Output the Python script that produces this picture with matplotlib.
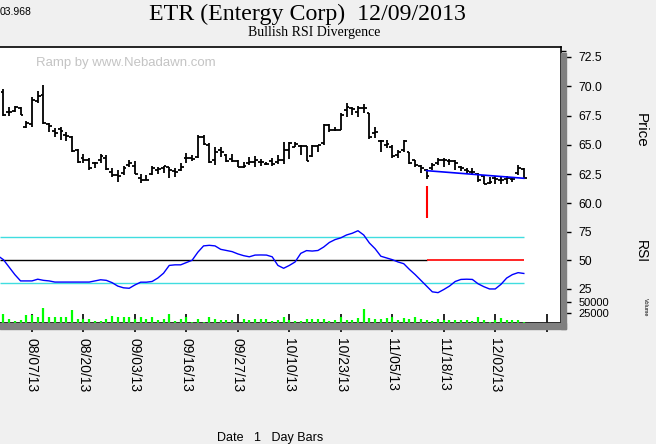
import numpy as np
import matplotlib.pyplot as plt
from matplotlib.patches import Rectangle
from matplotlib.ticker import FixedLocator, MultipleLocator, FormatStrFormatter

plt.rcParams['font.family'] = 'Liberation Sans'

# daily bars, index 1..92 (08/07/13 is bar 6, 12/09/13 is bar 92)
highs = [69.77, 68.23, 68.32, 68.23, 67.04, 69.09, 69.60, 70.11, 66.87, 66.44,
         66.53, 66.10, 65.76, 64.65, 64.22, 63.88, 63.54, 64.22, 64.14, 63.03,
         62.86, 63.20, 63.71, 63.63, 62.52, 62.43, 63.20, 63.12, 63.20, 63.12,
         63.03, 63.46, 64.31, 64.14, 65.84, 65.84, 65.16, 64.82, 64.82, 64.22,
         64.22, 63.71, 63.54, 63.97, 64.05, 63.80, 63.54, 63.88, 64.14, 65.25,
         65.25, 65.25, 64.99, 64.91, 64.99, 64.99, 66.78, 66.78, 66.53, 67.72,
         68.58, 68.23, 68.32, 68.49, 67.72, 66.53, 65.42, 65.42, 64.99, 64.56,
         65.42, 64.39, 63.71, 63.29, 62.94, 63.46, 63.88, 63.88, 63.80, 63.71,
         63.20, 63.03, 63.03, 62.60, 62.43, 62.26, 62.35, 62.26, 62.35, 62.26,
         63.29, 63.03]
lows = [67.47, 67.47, 67.81, 67.55, 66.44, 66.53, 68.58, 66.78, 66.10, 65.67,
        65.42, 65.33, 64.39, 63.46, 63.46, 62.86, 63.03, 63.46, 62.86, 62.26,
        61.84, 62.43, 63.12, 62.52, 61.75, 62.01, 62.43, 62.52, 62.60, 62.18,
        62.26, 62.77, 63.46, 63.63, 63.88, 64.99, 63.46, 63.29, 63.97, 63.54,
        63.54, 63.12, 63.03, 63.29, 63.12, 63.20, 63.29, 63.20, 63.37, 63.37,
        63.80, 64.82, 64.14, 63.63, 63.97, 64.39, 64.99, 66.10, 66.19, 66.27,
        67.38, 67.55, 67.38, 67.72, 65.50, 65.59, 64.39, 64.74, 63.88, 63.88,
        64.39, 63.37, 63.12, 62.60, 62.09, 62.86, 63.29, 63.12, 63.29, 62.86,
        62.77, 62.52, 62.43, 61.84, 61.67, 61.67, 61.67, 61.67, 61.67, 61.84,
        62.43, 62.18]
opens = [69.51, 67.81, 67.89, 68.15, 66.53, 66.78, 68.75, 69.25, 66.78, 66.19,
         66.36, 65.84, 65.67, 64.56, 63.88, 63.71, 63.46, 63.71, 63.88, 62.69,
         62.43, 62.60, 63.29, 63.20, 62.18, 62.01, 62.52, 62.86, 63.03, 63.12,
         62.77, 62.86, 63.88, 63.88, 63.97, 65.67, 64.99, 63.71, 64.56, 64.14,
         63.80, 63.63, 63.12, 63.46, 63.54, 63.54, 63.37, 63.63, 63.54, 63.71,
         64.56, 64.82, 64.91, 64.91, 64.05, 64.91, 65.16, 66.70, 66.27, 66.27,
         67.98, 68.15, 67.81, 68.15, 67.72, 66.02, 65.33, 64.99, 64.82, 64.14,
         64.56, 64.39, 63.71, 63.20, 62.86, 63.03, 63.46, 63.71, 63.63, 63.63,
         63.12, 62.86, 62.69, 62.52, 62.35, 61.75, 62.18, 62.01, 62.09, 62.09,
         62.60, 62.94]
closes = [67.55, 67.81, 68.23, 67.55, 66.87, 68.83, 69.17, 66.87, 66.61, 66.02,
          66.19, 65.76, 64.48, 63.54, 63.71, 63.03, 63.46, 64.05, 62.94, 62.43,
          62.35, 63.03, 63.46, 62.52, 62.01, 62.01, 63.03, 62.94, 63.20, 62.86,
          62.69, 63.12, 63.88, 63.80, 65.67, 65.08, 63.54, 64.39, 64.39, 63.63,
          63.63, 63.12, 63.20, 63.54, 63.71, 63.54, 63.37, 63.37, 63.71, 64.56,
          65.16, 65.08, 64.91, 63.63, 64.91, 64.99, 66.70, 66.27, 66.27, 67.55,
          68.23, 68.06, 68.15, 68.15, 65.67, 66.10, 65.33, 65.08, 64.05, 64.39,
          65.33, 63.46, 63.29, 63.03, 62.35, 63.29, 63.71, 63.71, 63.63, 63.46,
          63.03, 62.77, 62.69, 62.01, 61.67, 61.84, 62.09, 62.01, 62.18, 62.09,
          63.03, 62.18]
volume = [22600, 10400, 5600, 8000, 20100, 20100, 13800, 37100, 15300, 13800,
          13800, 15300, 30800, 10400, 10400, 10400, 5600, 4100, 10400, 17700,
          13800, 15300, 13800, 10400, 13800, 9000, 15300, 8000, 10400, 22600,
          5600, 10400, 13800, 3200, 10400, 3200, 13800, 9000, 8000, 6500,
          6500, 1200, 9000, 6500, 9000, 9000, 9000, 4100, 6500, 13800,
          8000, 4100, 5600, 10400, 10400, 10400, 10400, 4100, 8000, 13800,
          7300, 7300, 11400, 34700, 12100, 9700, 9700, 12100, 13800, 8000,
          12100, 9700, 15300, 9700, 7300, 4100, 9700, 8000, 7300, 7300,
          8000, 8000, 4100, 13800, 7300, 1700, 8000, 12100, 7300, 8000,
          8000, 3200]
# RSI for bars 0..92
rsi = [54, 50.5, 44, 37.5, 32, 32, 32, 33.5, 32.5, 32,
       31, 31, 31, 31, 31, 31, 31, 32, 33, 32.5,
       30.5, 27.5, 26, 25.6, 28.5, 30.9, 30.9, 31.5, 34.5, 38.7,
       45.5, 46, 46, 48, 50, 57, 62.5, 63, 62.5, 59.5,
       58.5, 57.5, 55.5, 54, 53, 54.5, 54.6, 54.5, 53, 45.5,
       43, 45.5, 48.5, 56, 58.4, 58, 58.5, 61.5, 65.5, 68,
       69.5, 72, 73.5, 75.7, 72, 65, 60, 53.5, 52, 50.5,
       48.5, 47, 42, 37.5, 32.5, 27.5, 22.5, 21.8, 24.5, 27.5,
       31.5, 33.3, 33.5, 33.3, 29.5, 27, 25, 25, 29, 34.5,
       37.5, 39.2, 38.5]

# divergence markings
div_bar = 75
div_end = 92
div_line = [62.80, 62.15]
div_marker = [58.76, 61.49]

tick_bars = [6, 15, 24, 33, 42, 51, 60, 69, 78, 87, 96]
tick_labels = ['08/07/13', '08/20/13', '09/03/13', '09/16/13', '09/27/13',
               '10/10/13', '10/23/13', '11/05/13', '11/18/13', '12/02/13', '']

bars = np.arange(1, len(closes) + 1)
rsi_bars = np.arange(0, len(rsi))

W, H = 656, 444


def box(x0, y0, x1, y1):
    return [x0 / W, 1 - y1 / H, (x1 - x0) / W, (y1 - y0) / H]


fig = plt.figure(figsize=(W / 100, H / 100), dpi=100, facecolor='#f0f0f0')

# drop shadow
fig.patches.append(Rectangle((561 / W, 1 - 329 / H), 5 / W, 276 / H,
                             transform=fig.transFigure, color='#808080', zorder=0))
fig.patches.append(Rectangle((0, 1 - 329 / H), 566 / W, 6 / H,
                             transform=fig.transFigure, color='#808080', zorder=0))

bg = fig.add_axes(box(0, 47, 561, 323))
bg.set_facecolor('white')
bg.set_xticks([])
bg.set_yticks([])
bg.spines['left'].set_visible(False)
bg.spines['top'].set_linewidth(1.2)
bg.spines['right'].set_linewidth(1.2)
bg.spines['bottom'].set_linewidth(2)

ax_p = fig.add_axes(box(0, 47, 561, 222))
ax_r = fig.add_axes(box(0, 222, 561, 297), sharex=ax_p)
ax_v = fig.add_axes(box(0, 297, 561, 323), sharex=ax_p)

for ax in (ax_p, ax_r, ax_v):
    ax.patch.set_visible(False)
    for s in ax.spines.values():
        s.set_visible(False)
    ax.yaxis.tick_right()
    ax.tick_params(axis='y', which='major', length=7.5, width=1, pad=5, labelsize=8.8)
    ax.tick_params(axis='y', which='minor', length=3.8, width=1)
    ax.tick_params(axis='x', which='both', bottom=False, labelbottom=False)

ax_p.set_xlim(0.405, 98.5)

# price bars
lw = 1.3
ax_p.vlines(bars, lows, highs, color='black', lw=lw)
ax_p.hlines(opens, bars - 0.5, bars, color='black', lw=lw)
ax_p.hlines(closes, bars, bars + 0.5, color='black', lw=lw)
ax_p.plot([div_bar, div_end], div_line, color='#0000ff', lw=1.2)
ax_p.vlines(div_bar, div_marker[0], div_marker[1], color='red', lw=1.5)
ax_p.set_ylim(58.42, 73.35)
ax_p.yaxis.set_major_locator(FixedLocator([60, 62.5, 65, 67.5, 70, 72.5]))
ax_p.yaxis.set_minor_locator(MultipleLocator(0.5))
ax_p.yaxis.set_major_formatter(FormatStrFormatter('%.1f'))

# RSI
ax_r.hlines([70, 30], 0.405, div_end, color='#40dde0', lw=1)
ax_r.hlines(50, 0.405, div_bar, color='black', lw=1)
ax_r.hlines(50, div_bar, div_end, color='red', lw=1.2)
ax_r.plot(rsi_bars, rsi, color='#0000ff', lw=1)
ax_r.set_ylim(18, 83.3)
ax_r.yaxis.set_major_locator(FixedLocator([25, 50, 75]))
ax_r.yaxis.set_minor_locator(MultipleLocator(5))

# volume
ax_v.vlines(bars, 0, volume, color='#00ff00', lw=1.6)
ax_v.set_ylim(0, 63100)
ax_v.yaxis.set_major_locator(FixedLocator([25000, 50000]))
ax_v.yaxis.set_minor_locator(FixedLocator([12500, 37500]))
ax_v.yaxis.set_major_formatter(FormatStrFormatter('%d'))
ax_v.tick_params(axis='y', which='major', labelsize=8)

ax_v.tick_params(axis='x', which='major', bottom=True, labelbottom=True,
                 direction='inout', length=13, width=1.2, pad=4, labelsize=10,
                 labelrotation=-90)
ax_v.set_xticks(tick_bars)
ax_v.set_xticklabels(tick_labels)

# texts
fig.text(307.5 / W, 1 - 20 / H, 'ETR (Entergy Corp)  12/09/2013',
         family='Liberation Serif', fontsize=17.2, ha='center', va='baseline')
fig.text(314.5 / W, 1 - 36 / H, 'Bullish RSI Divergence',
         family='Liberation Serif', fontsize=10, ha='center', va='baseline')
fig.text(0, 1 - 12 / H, '03.968', fontsize=7.5, va='center')
fig.text(36 / W, 1 - 63 / H, 'Ramp by www.Nebadawn.com', color='#c4c4c4',
         fontsize=9.5, va='center')
fig.text(641 / W, 1 - 130 / H, 'Price', rotation=-90, fontsize=11,
         ha='center', va='center')
fig.text(641 / W, 1 - 252 / H, 'RSI', rotation=-90, fontsize=10,
         ha='center', va='center')
fig.text(645 / W, 1 - 307 / H, 'Volume', rotation=-90, fontsize=4,
         ha='center', va='center')
fig.text(270 / W, 1 - 438 / H, 'Date   1   Day Bars', fontsize=9,
         ha='center', va='center')

fig.savefig('out.png', dpi=100, facecolor=fig.get_facecolor())
